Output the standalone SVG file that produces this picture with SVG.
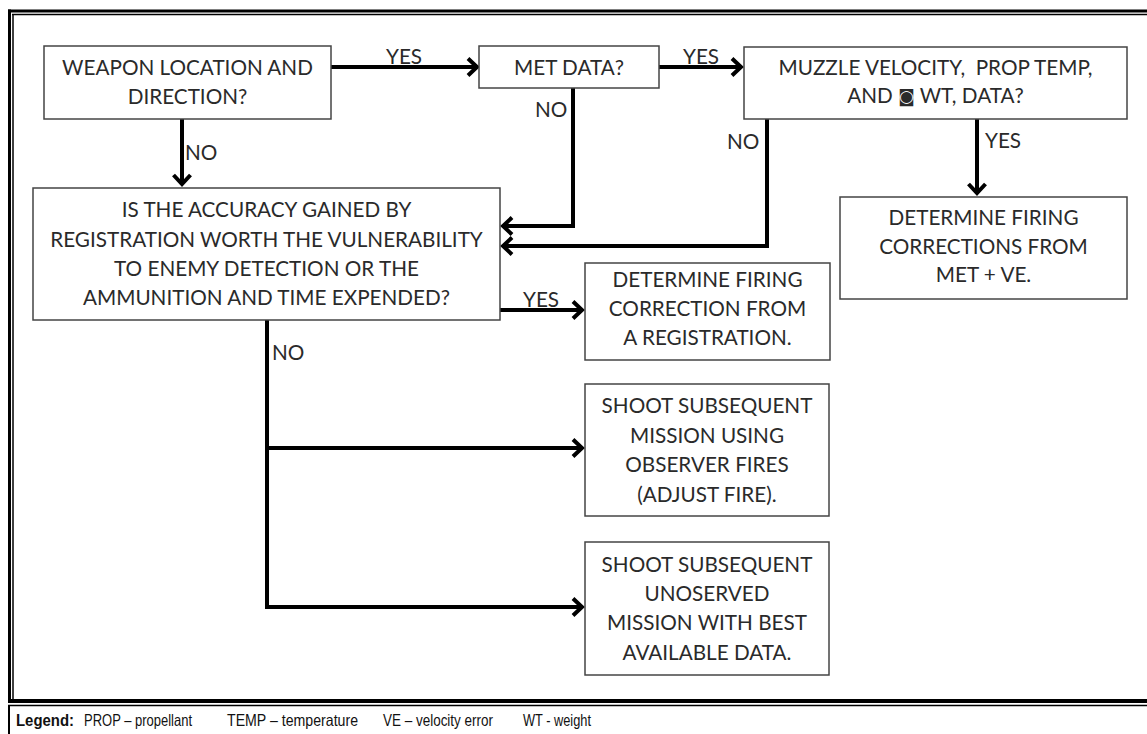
<svg xmlns="http://www.w3.org/2000/svg" width="1147" height="734" viewBox="0 0 1147 734">
<style>
.box{fill:#fff;stroke:#444;stroke-width:1.5}
.t{font-family:Lato,"Liberation Sans",sans-serif;font-size:20.7px;fill:#2a2a2a;text-anchor:middle;white-space:pre}
.lbl{font-family:Lato,"Liberation Sans",sans-serif;font-size:20.7px;fill:#2a2a2a;white-space:pre}
.c{fill:none;stroke:#000;stroke-width:4;marker-end:url(#ah)}
.leg{font-family:"Liberation Sans",Arial,sans-serif;font-size:16.5px;fill:#111;white-space:pre}
</style>
<defs>
<marker id="ah" markerUnits="userSpaceOnUse" markerWidth="24" markerHeight="24" viewBox="-14 -12 18 24" refX="0" refY="0" orient="auto">
<path d="M-9,-8.5 L0,0 L-9,8.5" fill="none" stroke="#000" stroke-width="4" stroke-linejoin="miter"/>
</marker>
</defs>
<rect width="1147" height="734" fill="#fff"/>
<g id="frame" fill="none" stroke="#000">
<line x1="8" y1="11" x2="1147" y2="11" stroke-width="3"/>
<line x1="12" y1="14.5" x2="1147" y2="14.5" stroke-width="1.5"/>
<line x1="9.5" y1="9.5" x2="9.5" y2="703" stroke-width="3"/>
<line x1="13" y1="14" x2="13" y2="699" stroke-width="1.5"/>
<line x1="8" y1="701" x2="1147" y2="701" stroke-width="4"/>
<line x1="8" y1="705.5" x2="1147" y2="705.5" stroke-width="1.5"/>
<line x1="9" y1="705" x2="9" y2="734" stroke-width="2"/>
</g>
<g id="connectors">
<path class="c" d="M331,67 H477"/>
<path class="c" d="M659,67 H741"/>
<path class="c" d="M182,119 V184"/>
<path class="c" d="M573,88 V226 H503"/>
<path class="c" d="M767,119 V246 H503"/>
<path class="c" d="M977,119 V193"/>
<path class="c" d="M500,310 H582"/>
<path class="c" d="M267,320 V607 H582"/>
<path class="c" d="M267,448 H582"/>
<text class="lbl" x="386" y="64">YES</text>
<text class="lbl" x="683" y="64">YES</text>
<text class="lbl" x="185" y="160">NO</text>
<text class="lbl" x="535" y="117">NO</text>
<text class="lbl" x="727" y="149">NO</text>
<text class="lbl" x="985" y="148">YES</text>
<text class="lbl" x="523" y="307">YES</text>
<text class="lbl" x="272" y="360">NO</text>
</g>
<g id="n-weapon">
<rect class="box" x="44" y="46" width="287" height="73"/>
<text class="t" x="187.5" y="75">WEAPON LOCATION AND</text>
<text class="t" x="187.5" y="104">DIRECTION?</text>
</g>
<g id="n-met">
<rect class="box" x="479" y="46" width="180" height="42"/>
<text class="t" x="569" y="75">MET DATA?</text>
</g>
<g id="n-muzzle">
<rect class="box" x="744" y="47" width="383" height="72"/>
<text class="t" x="935.5" y="75">MUZZLE VELOCITY,  PROP TEMP,</text>
<text class="t" x="935.5" y="103">AND <tspan font-family="'DejaVu Sans',sans-serif" font-size="17" dy="-1">◙</tspan><tspan dy="1"> WT, DATA?</tspan></text>
</g>
<g id="n-metve">
<rect class="box" x="840" y="197" width="287" height="102"/>
<text class="t" x="983.5" y="225">DETERMINE FIRING</text>
<text class="t" x="983.5" y="254">CORRECTIONS FROM</text>
<text class="t" x="983.5" y="282">MET + VE.</text>
</g>
<g id="n-accuracy">
<rect class="box" x="33" y="188" width="467" height="132"/>
<text class="t" x="266.5" y="217">IS THE ACCURACY GAINED BY</text>
<text class="t" x="266.5" y="247">REGISTRATION WORTH THE VULNERABILITY</text>
<text class="t" x="266.5" y="276">TO ENEMY DETECTION OR THE</text>
<text class="t" x="266.5" y="305">AMMUNITION AND TIME EXPENDED?</text>
</g>
<g id="n-registration">
<rect class="box" x="585" y="263" width="245" height="97"/>
<text class="t" x="707.5" y="287">DETERMINE FIRING</text>
<text class="t" x="707.5" y="316">CORRECTION FROM</text>
<text class="t" x="707.5" y="345">A REGISTRATION.</text>
</g>
<g id="n-observed">
<rect class="box" x="585" y="384" width="244" height="132"/>
<text class="t" x="707" y="413">SHOOT SUBSEQUENT</text>
<text class="t" x="707" y="443">MISSION USING</text>
<text class="t" x="707" y="472">OBSERVER FIRES</text>
<text class="t" x="707" y="502">(ADJUST FIRE).</text>
</g>
<g id="n-unobserved">
<rect class="box" x="585" y="542" width="244" height="133"/>
<text class="t" x="707" y="572">SHOOT SUBSEQUENT</text>
<text class="t" x="707" y="601">UNOSERVED</text>
<text class="t" x="707" y="630">MISSION WITH BEST</text>
<text class="t" x="707" y="660">AVAILABLE DATA.</text>
</g>
<g id="legend">
<text class="leg" x="16" y="726" font-weight="bold" textLength="58" lengthAdjust="spacingAndGlyphs">Legend:</text>
<text class="leg" x="84" y="726" textLength="108" lengthAdjust="spacingAndGlyphs">PROP – propellant</text>
<text class="leg" x="227" y="726" textLength="131" lengthAdjust="spacingAndGlyphs">TEMP – temperature</text>
<text class="leg" x="383" y="726" textLength="110" lengthAdjust="spacingAndGlyphs">VE – velocity error</text>
<text class="leg" x="523" y="726" textLength="68" lengthAdjust="spacingAndGlyphs">WT - weight</text>
</g>
</svg>
